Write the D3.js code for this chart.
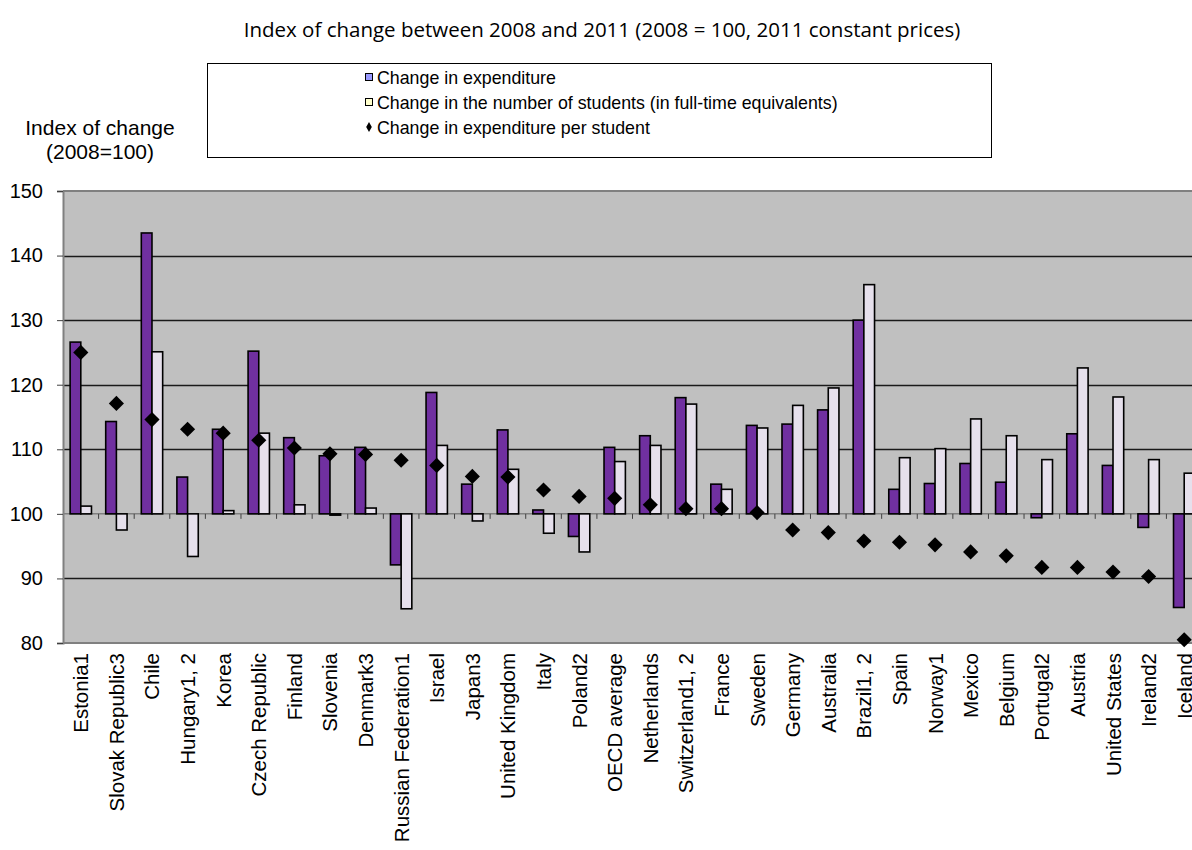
<!DOCTYPE html>
<html>
<head>
<meta charset="utf-8">
<script src="https://cdn.jsdelivr.net/npm/d3@7"></script>
<style>
  body { margin: 0; background: #fff; }
  svg { display: block; }
</style>
</head>
<body>
<script>
var countries = ["Estonia1", "Slovak Republic3", "Chile", "Hungary1, 2", "Korea", "Czech Republic",
    "Finland", "Slovenia", "Denmark3", "Russian Federation1", "Israel", "Japan3", "United Kingdom",
    "Italy", "Poland2", "OECD average", "Netherlands", "Switzerland1, 2", "France", "Sweden",
    "Germany", "Australia", "Brazil1, 2", "Spain", "Norway1", "Mexico", "Belgium", "Portugal2",
    "Austria", "United States", "Ireland2", "Iceland"];

var expenditure = [126.6, 114.3, 143.5, 105.7, 113.1, 125.2, 111.8, 109.0, 110.3, 92.1, 118.8, 104.6,
    113.0, 100.6, 96.5, 110.3, 112.1, 118.0, 104.6, 113.7, 113.9, 116.1, 130.0, 103.8, 104.7, 107.8,
    104.9, 99.4, 112.4, 107.5, 97.9, 85.5];

var students = [101.2, 97.5, 125.1, 93.4, 100.5, 112.5, 101.4, 99.8, 100.9, 85.3, 110.6, 98.9,
    106.9, 97.0, 94.1, 108.1, 110.6, 117.0, 103.8, 113.3, 116.8, 119.5, 135.5, 108.7, 110.1, 114.7,
    112.1, 108.4, 122.6, 118.1, 108.4, 106.3];

var perStudent = [125.0, 117.1, 114.6, 113.1, 112.5, 111.4, 110.2, 109.3, 109.2, 108.3, 107.5, 105.8,
    105.7, 103.7, 102.7, 102.4, 101.4, 100.8, 100.8, 100.2, 97.5, 97.1, 95.8, 95.6, 95.2, 94.1,
    93.5, 91.7, 91.7, 91.0, 90.3, 80.5];

var yTicks = [80, 90, 100, 110, 120, 130, 140, 150];

var legendLabels = ["Change in expenditure",
    "Change in the number of students (in full-time equivalents)",
    "Change in expenditure per student"];

var width = 1192;
var height = 850;
var plotLeft = 63;
var plotRight = 1202;
var plotTop = 191;
var plotBottom = 643;

var svg = d3.select("body")
    .append("svg")
    .attr("width", width)
    .attr("height", height);

// scales
var x = d3.scaleBand()
    .domain(countries)
    .range([plotLeft, plotRight]);

var y = d3.scaleLinear()
    .domain([80, 150])
    .range([plotBottom, plotTop]);

var barW = x.bandwidth() * 0.3;

// title
svg.append("text")
    .attr("x", 602)
    .attr("y", 37)
    .attr("text-anchor", "middle")
    .style("font-family", "'Open Sans', sans-serif")
    .style("font-size", "20.5px")
    .text("Index of change between 2008 and 2011 (2008 = 100, 2011 constant prices)");

// y axis title
var yTitle = svg.append("text")
    .attr("text-anchor", "middle")
    .style("font-family", "'Liberation Sans', Arial, sans-serif")
    .style("font-size", "21px");
yTitle.append("tspan").attr("x", 100).attr("y", 135).text("Index of change");
yTitle.append("tspan").attr("x", 100).attr("y", 159).text("(2008=100)");

// legend
var legend = svg.append("g");
legend.append("rect")
    .attr("x", 207.5)
    .attr("y", 63.5)
    .attr("width", 784)
    .attr("height", 94)
    .attr("fill", "#fff")
    .attr("stroke", "#000")
    .attr("stroke-width", 1);

var legendY = [77, 102, 127];
var swatchFill = ["#9999ff", "#ffffcc"];

legendLabels.forEach(function(lab, i) {
    if (i < 2) {
        legend.append("rect")
            .attr("x", 365.5)
            .attr("y", legendY[i] - 3.5)
            .attr("width", 7)
            .attr("height", 7)
            .attr("fill", swatchFill[i])
            .attr("stroke", "#000")
            .attr("stroke-width", 1);
    } else {
        legend.append("path")
            .attr("d", d3.symbol().type(d3.symbolDiamond).size(28))
            .attr("transform", "translate(369," + legendY[i] + ")")
            .attr("fill", "#000");
    }
    legend.append("text")
        .attr("x", 377)
        .attr("y", legendY[i] + 6.5)
        .style("font-family", "'Liberation Sans', Arial, sans-serif")
        .style("font-size", "17.8px")
        .text(lab);
});

// plot background
svg.append("rect")
    .attr("x", plotLeft)
    .attr("y", plotTop)
    .attr("width", plotRight - plotLeft)
    .attr("height", plotBottom - plotTop)
    .attr("fill", "#c0c0c0");

// gridlines
svg.append("g")
    .selectAll("line")
    .data(yTicks.filter(function(d) { return d != 80 && d != 150 && d != 100; }))
    .enter()
    .append("line")
    .attr("x1", plotLeft)
    .attr("x2", plotRight)
    .attr("y1", function(d) { return Math.round(y(d)) + 0.5; })
    .attr("y2", function(d) { return Math.round(y(d)) + 0.5; })
    .attr("stroke", "#1a1a1a")
    .attr("stroke-width", 1.3);

// top and bottom border
[150, 80].forEach(function(v) {
    svg.append("line")
        .attr("x1", plotLeft)
        .attr("x2", plotRight)
        .attr("y1", y(v))
        .attr("y2", y(v))
        .attr("stroke", "#808080")
        .attr("stroke-width", 2);
});

// category axis at 100
svg.append("line")
    .attr("x1", plotLeft)
    .attr("x2", plotRight)
    .attr("y1", y(100))
    .attr("y2", y(100))
    .attr("stroke", "#808080")
    .attr("stroke-width", 1.5);

svg.append("g")
    .selectAll("line")
    .data(countries)
    .enter()
    .append("line")
    .attr("x1", function(d) { return x(d) + x.bandwidth(); })
    .attr("x2", function(d) { return x(d) + x.bandwidth(); })
    .attr("y1", y(100))
    .attr("y2", y(100) + 5)
    .attr("stroke", "#404040")
    .attr("stroke-width", 1);

// y axis
var y_axis = d3.axisLeft(y)
    .tickValues(yTicks)
    .tickSize(6)
    .tickPadding(14);

var yAxisG = svg.append("g")
    .attr("transform", "translate(" + plotLeft + ",0)")
    .call(y_axis);
yAxisG.select(".domain").attr("stroke", "#808080").attr("stroke-width", 2);
yAxisG.selectAll(".tick line").attr("stroke", "#404040");
yAxisG.selectAll("text")
    .style("font-family", "'Liberation Sans', Arial, sans-serif")
    .style("font-size", "20px")
    .attr("fill", "#000");

// bars
var bars = svg.append("g");
bars.selectAll("rect.exp")
    .data(expenditure)
    .enter()
    .append("rect")
    .attr("class", "exp")
    .attr("x", function(d, i) { return x(countries[i]) + x.bandwidth() / 2 - barW; })
    .attr("y", function(d) { return Math.min(y(d), y(100)); })
    .attr("width", barW)
    .attr("height", function(d) { return Math.abs(y(d) - y(100)); })
    .attr("fill", "#7030a0")
    .attr("stroke", "#000")
    .attr("stroke-width", 1.6);

bars.selectAll("rect.stu")
    .data(students)
    .enter()
    .append("rect")
    .attr("class", "stu")
    .attr("x", function(d, i) { return x(countries[i]) + x.bandwidth() / 2; })
    .attr("y", function(d) { return Math.min(y(d), y(100)); })
    .attr("width", barW)
    .attr("height", function(d) { return Math.abs(y(d) - y(100)); })
    .attr("fill", "#e6e0ec")
    .attr("stroke", "#000")
    .attr("stroke-width", 1.6);

// diamonds
svg.append("g")
    .selectAll("path")
    .data(perStudent)
    .enter()
    .append("path")
    .attr("d", d3.symbol().type(d3.symbolSquare).size(115))
    .attr("transform", function(d, i) {
        return "translate(" + (x(countries[i]) + x.bandwidth() / 2) + "," + y(d) + ") rotate(45)";
    })
    .attr("fill", "#000");

// category labels
svg.append("g")
    .selectAll("text")
    .data(countries)
    .enter()
    .append("text")
    .attr("transform", function(d) {
        return "translate(" + (x(d) + x.bandwidth() / 2 + 7.5) + "," + 653 + ") rotate(-90)";
    })
    .attr("text-anchor", "end")
    .style("font-family", "'Liberation Sans', Arial, sans-serif")
    .style("font-size", "20.5px")
    .text(function(d) { return d; });
</script>
</body>
</html>
